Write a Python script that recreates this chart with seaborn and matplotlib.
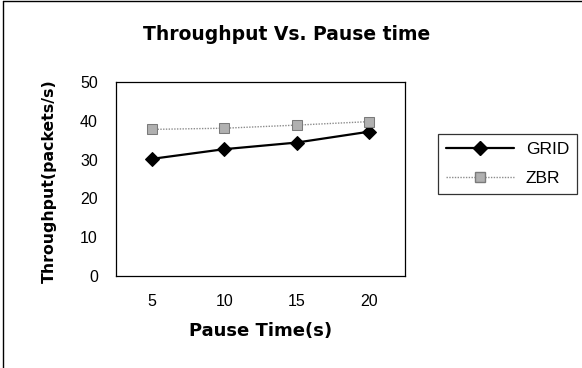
import numpy as np
import pandas as pd
import seaborn as sns
import matplotlib.pyplot as plt
from matplotlib.lines import Line2D

# data
pause_time = ['5', '10', '15', '20']
grid_tp = [30.2, 32.7, 34.4, 37.2]
zbr_tp = [37.8, 38.1, 38.9, 39.8]

df = pd.DataFrame({
    'pause': pause_time * 2,
    'throughput': grid_tp + zbr_tp,
    'protocol': ['GRID'] * 4 + ['ZBR'] * 4,
})

sns.set_style('white')
plt.rcParams['font.family'] = ['Liberation Sans', 'DejaVu Sans']
plt.rcParams['text.color'] = 'black'
plt.rcParams['axes.labelcolor'] = 'black'
plt.rcParams['xtick.color'] = 'black'
plt.rcParams['ytick.color'] = 'black'

fig = plt.figure(figsize=(5.82, 3.68), dpi=100)
ax = fig.add_axes([0.199, 0.25, 0.497, 0.527])

sns.lineplot(data=df, x='pause', y='throughput', hue='protocol', style='protocol',
             palette={'GRID': 'black', 'ZBR': '#8c8c8c'},
             markers={'GRID': 'D', 'ZBR': 's'},
             dashes={'GRID': '', 'ZBR': (1, 1)},
             markersize=7, ax=ax, legend=False)
ax.lines[0].set_linewidth(1.6)
ax.lines[0].set_markeredgecolor('black')
ax.lines[1].set_linewidth(1.0)
ax.lines[1].set_markersize(6.5)
ax.lines[1].set_markerfacecolor('#b0b0b0')
ax.lines[1].set_markeredgecolor('#7a7a7a')

ax.set_xlim(-0.5, 3.5)
ax.set_ylim(0, 50)
ax.set_yticks(range(0, 51, 10))
ax.set_xticks(np.arange(-0.5, 3.6, 1))
ax.set_xticklabels([])
ax.set_xticks(range(4), minor=True)
ax.set_xticklabels(pause_time, minor=True)
ax.tick_params(axis='x', which='major', direction='out', length=4, width=0.8, color='black')
ax.tick_params(axis='x', which='minor', length=0, labelsize=11.5, pad=13)
ax.tick_params(axis='y', direction='out', length=4, width=0.8, color='black',
               labelsize=11.5, pad=9)

for s in ax.spines.values():
    s.set_color('black')
    s.set_linewidth(0.9)

ax.set_xlabel('Pause Time(s)', fontsize=13, fontweight='bold', family='DejaVu Sans', va='top')
ax.xaxis.set_label_coords(0.5, -0.235)
ax.set_ylabel('Throughput(packets/s)', fontsize=11.3, fontweight='bold', family='DejaVu Sans')
ax.yaxis.set_label_coords(-0.205, 0.49)
fig.text(0.493, 0.905, 'Throughput Vs. Pause time', ha='center', va='center',
         fontsize=13.5, fontweight='bold', family='DejaVu Sans')

# legend handles
h = [Line2D([], [], color='black', lw=1.6, marker='D', markersize=7, markeredgecolor='black'),
     Line2D([], [], color='#8c8c8c', lw=1.0, ls=(0, (1, 1)), marker='s', markersize=6.5,
            markerfacecolor='#b0b0b0', markeredgecolor='#7a7a7a')]
leg = fig.legend(h, ['GRID', 'ZBR'], loc='center left', bbox_to_anchor=(0.7526, 0.555),
                 borderaxespad=0, frameon=True, fancybox=False, edgecolor='black',
                 fontsize=12.5, handlelength=3.9, handletextpad=0.7, labelspacing=0.8,
                 borderpad=0.45)
leg.get_frame().set_linewidth(0.9)

# outer frame: left and top edges only
fig.add_artist(Line2D([0.006, 0.006], [0.0, 0.996], transform=fig.transFigure,
                      color='black', lw=1.0))
fig.add_artist(Line2D([0.006, 1.0], [0.996, 0.996], transform=fig.transFigure,
                      color='black', lw=1.0))

fig.savefig('out.png', dpi=100)
